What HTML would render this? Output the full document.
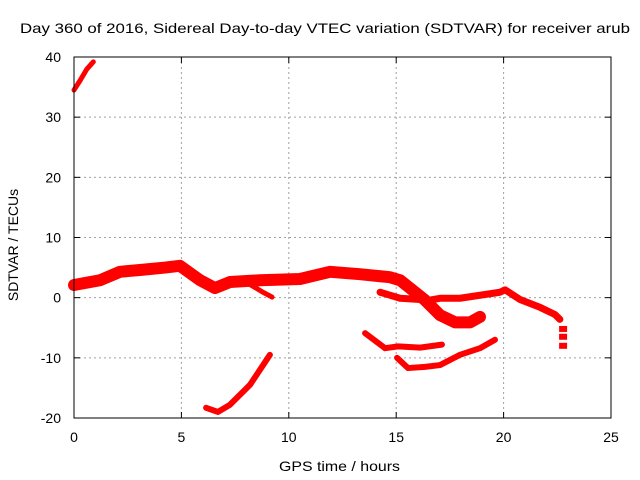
<!DOCTYPE html>
<html><head><meta charset="utf-8"><style>
body{margin:0;background:#fff}
svg{display:block;font-family:"Liberation Sans",Arial,sans-serif;font-size:14px}
</style></head><body>
<svg width="640" height="480">
<text x="20" y="33" textLength="610" lengthAdjust="spacingAndGlyphs" style="font-size:14px">Day 360 of 2016, Sidereal Day-to-day VTEC variation (SDTVAR) for receiver arub</text>
<g id="grid"></g>
<g id="series"></g>
<rect x="74" y="57" width="537" height="361" fill="none" stroke="#000"/>
<g id="ticks"></g>
<text x="279" y="471" textLength="121" lengthAdjust="spacingAndGlyphs" style="font-size:14px">GPS time / hours</text>
<text transform="translate(18,245) rotate(-90)" text-anchor="middle" style="font-size:14px">SDTVAR / TECUs</text>
</svg>
<script>
const xTicks=[0,5,10,15,20,25];
const yTicks=[-20,-10,0,10,20,30,40];
const arcTop=[[0,34.5],[0.3,36.2],[0.6,38],[0.9,39.2]];
const mainBand=[[0,2.1],[1.21,2.9],[2.14,4.3],[3.07,4.6],[4.24,5.0],[4.93,5.3],[5.87,2.9],[6.56,1.6],[7.26,2.6],[8.66,2.9],[10.52,3.1],[11.92,4.3],[13.31,3.9],[14.71,3.4],[15.18,2.9],[15.64,1.6],[16.34,-0.4],[17.04,-2.9],[17.74,-4.1],[18.44,-4.1],[18.9,-3.2]];
const branchB=[[14.25,0.9],[15.18,-0.1],[16.57,-0.4],[17.04,-0.1],[17.97,-0.1],[18.9,0.4],[19.83,0.9],[20.07,1.3],[20.76,-0.3],[21.69,-1.6],[22.39,-2.8],[22.62,-3.6]];
const spur=[[8.19,2.2],[8.75,1.0],[9.22,0.1]];
const lowLeft=[[6.15,-18.3],[6.7,-19.0],[7.26,-17.8],[8.19,-14.5],[9.12,-9.5]];
const midLow=[[13.55,-5.9],[14.48,-8.4],[15.09,-8.1],[16.11,-8.3],[17.13,-7.8]];
const lowRight=[[15.04,-10.0],[15.55,-11.7],[16.34,-11.5],[17.04,-11.2],[17.97,-9.5],[18.9,-8.4],[19.6,-7.0]];
const dots=[[22.77,-5.2],[22.77,-6.5],[22.77,-8.0]];
const NS="http://www.w3.org/2000/svg";
const X=v=>74+v*537/25, Y=v=>57+(40-v)*361/60;
function mk(t,a,p){const e=document.createElementNS(NS,t);for(const k in a)e.setAttribute(k,a[k]);p.appendChild(e);return e;}
const grid=document.getElementById('grid'),ticks=document.getElementById('ticks'),ser=document.getElementById('series');
xTicks.forEach(t=>{
 if(t>0&&t<25){const g=mk('line',{x1:X(t),x2:X(t),y1:57,y2:418,stroke:'#a0a0a0','stroke-dasharray':'2,3'},grid);
 
 }
 mk('line',{x1:X(t),x2:X(t),y1:418,y2:412,stroke:'#000'},ticks);
 mk('line',{x1:X(t),x2:X(t),y1:57,y2:63,stroke:'#000'},ticks);
 const l=mk('text',{x:X(t),y:442,'text-anchor':'middle'},ticks);l.textContent=t;
 
 
});
yTicks.forEach(t=>{
 if(t>-20&&t<40){const g=mk('line',{x1:74,x2:611,y1:Y(t),y2:Y(t),stroke:'#a0a0a0','stroke-dasharray':'2,3'},grid);
 
 }
 mk('line',{x1:74,x2:80,y1:Y(t),y2:Y(t),stroke:'#000'},ticks);
 mk('line',{x1:605,x2:611,y1:Y(t),y2:Y(t),stroke:'#000'},ticks);
 const l=mk('text',{x:61,y:Y(t)+5,'text-anchor':'end'},ticks);l.textContent=t;
 
 
});
function line(d,w,name){
 const p=mk('polyline',{points:d.map(q=>X(q[0])+','+Y(q[1])).join(' '),fill:'none',stroke:'#ff0000','stroke-width':w,'stroke-linejoin':'round','stroke-linecap':'round'},ser);
 
 
}
line(arcTop,5,'series-arc-top');
line(mainBand,12,'series-main-band');
line(branchB,7,'series-branch-b');
line(spur,5,'series-spur');
line(lowLeft,6,'series-low-left');
line(midLow,6,'series-mid-low');
line(lowRight,6,'series-low-right');
dots.forEach(q=>{const r=mk('rect',{x:X(q[0])-4,y:Y(q[1])-3,width:8,height:6,fill:'#ff0000'},ser);
 
 });
</script>
</body></html>
